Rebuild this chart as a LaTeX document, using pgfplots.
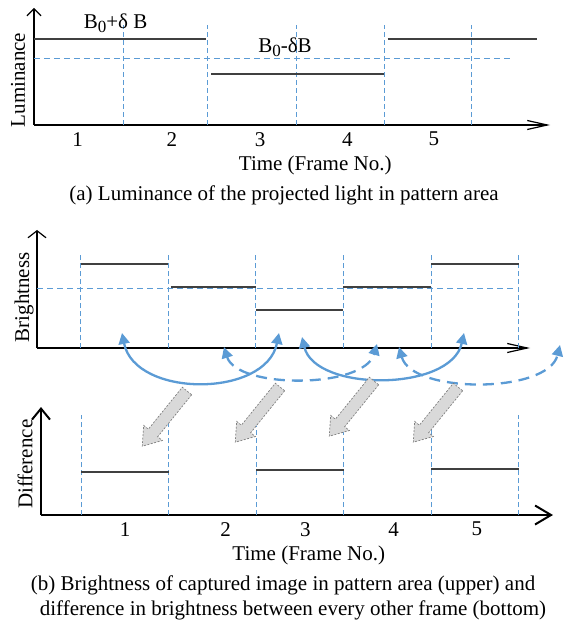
\documentclass[border=0pt]{standalone}
\usepackage{pgfplots}
\pgfplotsset{compat=1.18}
\usepackage{fontspec}
\setmainfont{Liberation Serif}
\usetikzlibrary{arrows.meta}
\definecolor{lblue}{HTML}{5B9BD5}
\definecolor{dgray}{HTML}{404040}
\definecolor{agray}{HTML}{D9D9D9}
\definecolor{egray}{HTML}{7F7F7F}
\newcommand\sub[1]{\raisebox{-0.18em}{\fontsize{17}{20}\selectfont #1}}
\pgfplotsset{
  sch/.style={scale only axis, clip=false, axis lines*=left, ytick=\empty,
    xtick style={draw=none}, /pgf/number format/assume math mode=true,
    anchor=south west, ymin=0},
  gridv/.style={color=lblue, line width=1pt, dash pattern=on 5pt off 3pt, ycomb, no marks},
  gridh/.style={color=lblue, line width=1pt, dash pattern=on 6pt off 4pt, no marks},
  lev/.style={color=dgray, line width=1.6pt, no marks},
}
\begin{document}
\fontsize{21}{25}\selectfont
\begin{tikzpicture}
% ---------- (a) luminance ----------
\begin{axis}[sch, at={(34pt,-125pt)}, width=516pt, height=117pt,
  xmin=0, xmax=5.91, ymax=117,
  x axis line style={line width=1.2pt, -{Straight Barb[length=20pt,width=9pt,line width=1.2pt]}},
  y axis line style={line width=2.4pt, -{Straight Barb[length=7pt,width=14pt,line width=1.2pt]}},
  xtick={0.50,1.58,2.59,3.59,4.58}, xticklabels={1,2,3,4,5},
  xlabel={Time (Frame No.)}, xlabel style={at={(rel axis cs:0.545,-0.342)}, anchor=center},
  ylabel={Luminance}, ylabel style={at={(rel axis cs:-0.031,0.385)}, anchor=center},
]
\addplot[gridv] coordinates {(1.02,100) (1.99,100) (3.01,100) (4.01,100) (5.01,100)};
\addplot[gridh] coordinates {(0,66) (5.45,66)};
\addplot[lev] coordinates {(0,86) (1.97,86)};
\addplot[lev] coordinates {(2.03,51) (4.01,51)};
\addplot[lev] coordinates {(4.05,86) (5.76,86)};
\node at (axis cs:0.934,102) {B\sub{0}+δ B};
\node at (axis cs:2.875,78) {B\sub{0}-δB};
\end{axis}
% ---------- (b) upper: brightness ----------
\begin{axis}[sch, at={(37pt,-348pt)}, width=493pt, height=118pt,
  xmin=0, xmax=5.63, ymax=118, xtick=\empty,
  x axis line style={line width=1.2pt, -{Straight Barb[length=20pt,width=9pt,line width=1.2pt]}},
  y axis line style={line width=2pt, -{Straight Barb[length=7pt,width=18pt,line width=1.2pt]}},
  ylabel={Brightness}, ylabel style={at={(rel axis cs:-0.026,0.43)}, anchor=center},
]
\addplot[gridv] coordinates {(0.5,95) (1.5,95) (2.5,95) (3.5,95) (4.5,95) (5.5,95)};
\addplot[gridh] coordinates {(0,60) (5.45,60)};
\addplot[lev] coordinates {(0.5,84) (1.5,84)};
\addplot[lev] coordinates {(1.53,61) (2.5,61)};
\addplot[lev] coordinates {(2.5,38) (3.5,38)};
\addplot[lev] coordinates {(3.5,61) (4.5,61)};
\addplot[lev] coordinates {(4.5,84) (5.5,84)};
\end{axis}
% ---------- (b) bottom: difference ----------
\begin{axis}[sch, at={(41pt,-515pt)}, width=512pt, height=108pt,
  xmin=0.04, xmax=5.89, ymax=108,
  x axis line style={line width=2.3pt, -{Straight Barb[length=16pt,width=19pt,line width=2pt]}},
  y axis line style={line width=2.3pt, -{Straight Barb[length=11pt,width=18pt,line width=2pt]}},
  xtick={1.00,2.15,3.06,4.07,5.02}, xticklabels={1,2,3,4,5},
  xlabel={Time (Frame No.)}, xlabel style={at={(rel axis cs:0.523,-0.37)}, anchor=center},
  ylabel={Difference}, ylabel style={at={(rel axis cs:-0.031,0.47)}, anchor=center},
]
\addplot[gridv] coordinates {(0.5,100) (1.5,100) (2.5,100) (3.5,100) (4.5,100) (5.5,100)};
\addplot[lev] coordinates {(0.5,43) (1.5,43)};
\addplot[lev] coordinates {(2.5,45) (3.5,45)};
\addplot[lev] coordinates {(4.5,46) (5.5,46)};
\end{axis}
% ---------- annotations ----------
\begin{scope}[x=1pt,y=-1pt]
\path (0,0) rectangle (566,628);
\node at (284,195) {(a) Luminance of the projected light in pattern area};
\node at (283,585) {(b) Brightness of captured image in pattern area (upper) and};
\node at (293,610) {difference in brightness between every other frame (bottom)};
\tikzset{tip/.tip={Triangle[length=11pt,width=11pt]}}
\draw[lblue, line width=2.3pt, tip-tip] (122,333) .. controls (135,398) and (266,398) .. (279,333);
\draw[lblue, line width=2.3pt, tip-tip] (302,337) .. controls (315,392) and (451,392) .. (464,333);
\draw[lblue, line width=2.3pt, dash pattern=on 11pt off 7pt, tip-tip] (224,347) .. controls (237,389) and (364,389) .. (377,344);
\draw[lblue, line width=2.3pt, dash pattern=on 11pt off 7pt, tip-tip] (399,347) .. controls (412,394) and (548,394) .. (560,345);
\foreach \tx/\ty in {187/391, 280/387, 374/381, 458/387}{
  \begin{scope}[shift={(\tx,\ty)}, rotate=-129]
    \filldraw[fill=agray, draw=egray, line width=0.7pt, dash pattern=on 2pt off 1.5pt]
      (0,-6) -- (54,-6) -- (54,-12) -- (71,0) -- (54,12) -- (54,6) -- (0,6) -- cycle;
  \end{scope}
}
\end{scope}
\end{tikzpicture}
\end{document}
